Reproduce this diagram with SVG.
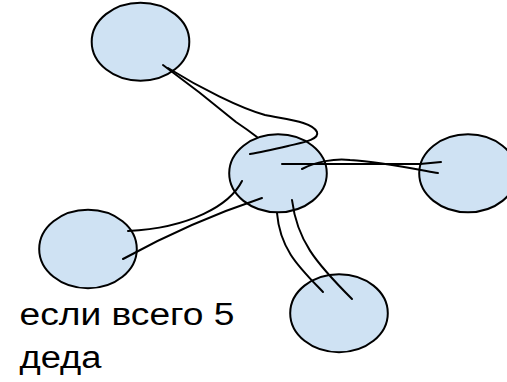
<svg xmlns="http://www.w3.org/2000/svg" width="507" height="382" viewBox="0 0 507 382">
<style>
.node{fill:#cfe2f3;stroke:#000;stroke-width:2}
.edge{fill:none;stroke:#000;stroke-width:2;stroke-linecap:round;stroke-linejoin:round}
.lbl{font-family:"Liberation Sans",Arial,sans-serif;font-size:31px;fill:#000}
</style>
<rect width="507" height="382" fill="#fff"/>
<g id="node-top"><ellipse class="node" cx="140.5" cy="41.7" rx="48.8" ry="39"/></g>
<g id="node-center"><ellipse class="node" cx="278" cy="173.3" rx="48.8" ry="39"/></g>
<g id="node-right"><ellipse class="node" cx="468" cy="173.3" rx="48.8" ry="39"/></g>
<g id="node-left"><ellipse class="node" cx="88" cy="249" rx="48.8" ry="39.3"/></g>
<g id="node-bottom"><ellipse class="node" cx="339" cy="313.2" rx="48.8" ry="39"/></g>
<g id="connectors">
<path class="edge" d="M163,65 Q200,92 236,122 Q248,130 257,137"/>
<path class="edge" d="M168,68 C200,88 240,108 265,115 C290,120 312,122 317,132 C320,140 300,143 288,146 C275,149 262,152 250,154"/>
<path class="edge" d="M282,164 L420,164 L441,162"/>
<path class="edge" d="M302,169 C315,162 335,158 350,160 C380,162 410,168 438,173"/>
<path class="edge" d="M242,181 C230,205 190,228 128,231"/>
<path class="edge" d="M262,198 Q190,222 123,259"/>
<path class="edge" d="M277,213 C280,250 300,268 323,292"/>
<path class="edge" d="M292,200 C297,240 315,262 352,299"/>
</g>
<g id="label">
<text class="lbl" x="19.5" y="325" textLength="215" lengthAdjust="spacingAndGlyphs">если всего 5</text>
<text class="lbl" x="19.5" y="368" textLength="82" lengthAdjust="spacingAndGlyphs">деда</text>
</g>
</svg>
